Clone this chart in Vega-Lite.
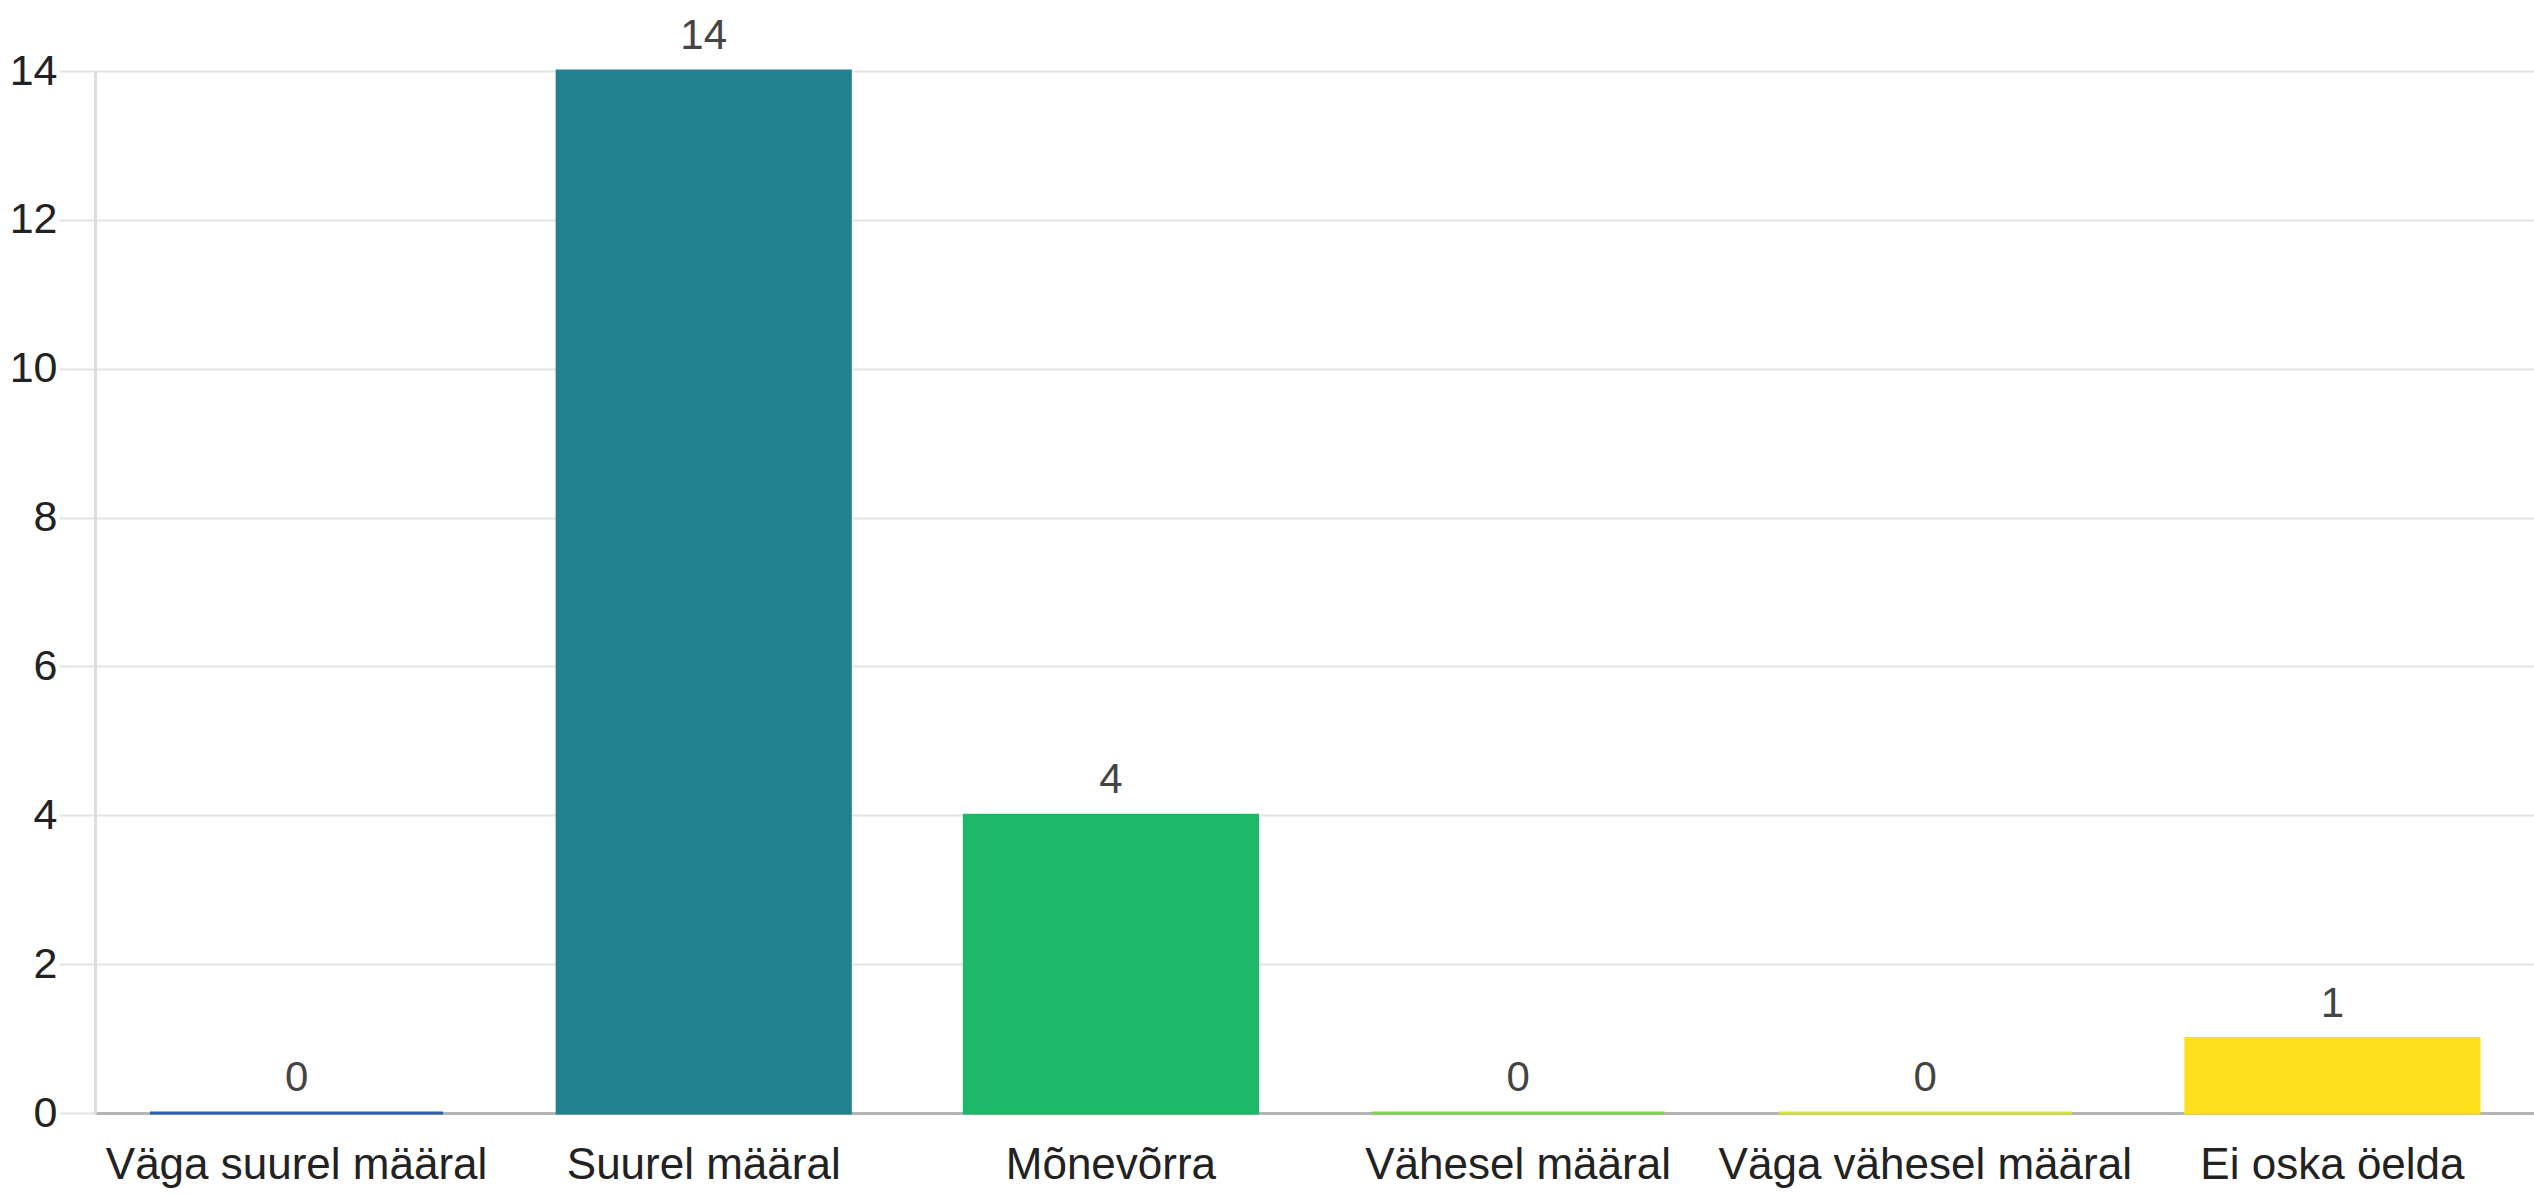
{
  "$schema": "https://vega.github.io/schema/vega-lite/v6.json",
  "autosize": {"type": "none"},
  "padding": {"left": 95, "top": 71, "right": 0, "bottom": 81},
  "width": 2439,
  "height": 1042,
  "background": "white",
  "config": {
    "view": {"stroke": null},
    "font": "Liberation Sans"
  },
  "data": {
    "values": [
      {"category": "Väga suurel määral", "count": 0, "color": "#2b5fac"},
      {"category": "Suurel määral", "count": 14, "color": "#23818f"},
      {"category": "Mõnevõrra", "count": 4, "color": "#1db96b"},
      {"category": "Vähesel määral", "count": 0, "color": "#7fd34e"},
      {"category": "Väga vähesel määral", "count": 0, "color": "#d2e43c"},
      {"category": "Ei oska öelda", "count": 1, "color": "#fde01b"}
    ]
  },
  "encoding": {
    "x": {
      "field": "category",
      "type": "nominal",
      "sort": null,
      "scale": {"paddingInner": 0.28, "paddingOuter": 0.135},
      "axis": {
        "title": null,
        "labelAngle": 0,
        "labelFontSize": 44,
        "labelLimit": 0,
        "labelColor": "#222222",
        "labelPadding": 30,
        "ticks": false,
        "domain": true,
        "domainColor": "#b5b5b5",
        "domainWidth": 3,
        "labelFont": "Liberation Sans"
      }
    },
    "y": {
      "field": "count",
      "type": "quantitative",
      "scale": {"domain": [0, 14], "nice": false},
      "axis": {
        "title": null,
        "values": [0, 2, 4, 6, 8, 10, 12, 14],
        "labelFontSize": 43,
        "labelColor": "#222222",
        "labelPadding": 2,
        "tickSize": 36,
        "tickColor": "#e3e3e3",
        "tickWidth": 2,
        "gridColor": "#e3e3e3",
        "gridWidth": 2,
        "domain": true,
        "domainColor": "#dddddd",
        "domainWidth": 3,
        "labelFont": "Liberation Sans"
      }
    }
  },
  "layer": [
    {
      "mark": {"type": "bar", "strokeWidth": 3},
      "encoding": {
        "color": {"field": "color", "type": "nominal", "scale": null, "legend": null},
        "stroke": {"field": "color", "type": "nominal", "scale": null, "legend": null}
      }
    },
    {
      "mark": {"type": "text", "baseline": "bottom", "dy": -13, "fontSize": 42, "color": "#444444", "font": "Liberation Sans"},
      "encoding": {
        "text": {"field": "count", "type": "quantitative"}
      }
    }
  ]
}
